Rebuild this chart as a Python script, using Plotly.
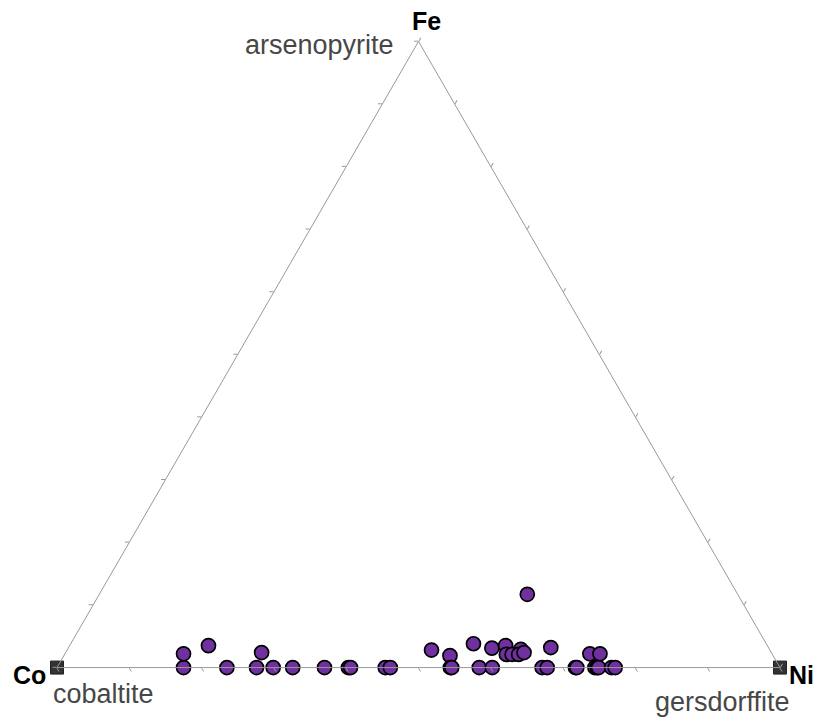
import plotly.graph_objects as go

# Fractions (Fe, Co, Ni) of each analysed grain
fe = [0, 0.022, 0.035, 0, 0.024, 0, 0, 0, 0, 0,
      0, 0, 0, 0.028, 0.019, 0, 0, 0.038, 0, 0.031,
      0.117, 0, 0.035, 0.021, 0.021, 0.029, 0.021, 0.024, 0.032, 0,
      0, 0, 0, 0.022, 0.022, 0, 0, 0, 0, 0]
co = [0.825, 0.814, 0.773, 0.765, 0.705, 0.724, 0.701, 0.674, 0.630, 0.597,
      0.594, 0.546, 0.539, 0.468, 0.447, 0.456, 0.454, 0.405, 0.416, 0.383,
      0.291, 0.398, 0.362, 0.368, 0.360, 0.344, 0.351, 0.342, 0.301, 0.329,
      0.322, 0.283, 0.281, 0.252, 0.238, 0.256, 0.253, 0.251, 0.233, 0.228]
ni = [0.175, 0.164, 0.192, 0.235, 0.271, 0.276, 0.299, 0.326, 0.370, 0.403,
      0.406, 0.454, 0.461, 0.504, 0.534, 0.544, 0.546, 0.557, 0.584, 0.586,
      0.592, 0.602, 0.603, 0.611, 0.619, 0.627, 0.628, 0.634, 0.667, 0.671,
      0.678, 0.717, 0.719, 0.726, 0.740, 0.744, 0.747, 0.749, 0.767, 0.772]

# End-member vertices marked with squares (Co and Ni)
vert_fe = [0, 0]
vert_co = [1, 0]
vert_ni = [0, 1]

vertex_labels = ["Fe", "Co", "Ni"]
mineral_labels = ["arsenopyrite", "cobaltite", "gersdorffite"]

W, H = 820, 719
ML, MR, MT, MB = 57, 40, 41, 51

def px(x, y):
    return (x - ML) / (W - ML - MR), (H - MB - y) / (H - MT - MB)

fig = go.Figure()

fig.add_trace(go.Scatterternary(
    a=vert_fe, b=vert_co, c=vert_ni, mode="markers",
    marker=dict(symbol="square", size=13, color="#333333",
                line=dict(color="#222222", width=1)),
    cliponaxis=False, hoverinfo="skip", showlegend=False))

fig.add_trace(go.Scatterternary(
    a=fe, b=co, c=ni, mode="markers",
    marker=dict(symbol="circle", size=14, color="#7030A0",
                line=dict(color="#000000", width=1.7)),
    cliponaxis=False, showlegend=False))

axis_style = dict(
    showgrid=False, showticklabels=False, ticks="outside", ticklen=4,
    tickcolor="#999999", dtick=0.1, tick0=0, linecolor="#999999",
    linewidth=1, showline=True, title=dict(text=""), min=0)

fig.update_layout(
    width=W, height=H,
    margin=dict(l=ML, r=MR, t=MT, b=MB),
    paper_bgcolor="white",
    font=dict(family="Liberation Sans, Arial, sans-serif"),
    ternary=dict(
        bgcolor="white",
        domain=dict(x=[0, 1], y=[0, 1]),
        aaxis=axis_style, baxis=axis_style, caxis=axis_style,
    ),
    showlegend=False,
)

annots = [
    (vertex_labels[0], 427, 21, 25, "#000000", True),
    (vertex_labels[1], 29, 675, 25, "#000000", True),
    (vertex_labels[2], 802, 675, 25, "#000000", True),
    (mineral_labels[0], 319, 45, 27, "#474747", False),
    (mineral_labels[1], 103, 694, 27, "#474747", False),
    (mineral_labels[2], 722, 702, 27, "#474747", False),
]
for text, x, y, size, color, bold in annots:
    xp, yp = px(x, y)
    fig.add_annotation(
        x=xp, y=yp, xref="paper", yref="paper", showarrow=False,
        text=f"<b>{text}</b>" if bold else text,
        xanchor="center", yanchor="middle",
        font=dict(size=size, color=color,
                  family="Liberation Sans, Arial, sans-serif"))

fig.write_html("out.html")
